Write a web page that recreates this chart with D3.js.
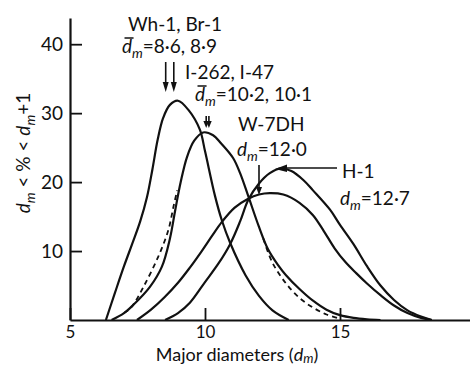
<!DOCTYPE html>
<html><head><meta charset="utf-8">
<script src="https://cdn.jsdelivr.net/npm/d3@7"></script>
<style>
body{margin:0;background:#fff}
text{font-family:Lato,"Open Sans",sans-serif;fill:#111}
</style>
</head><body>
<svg id="c" width="470" height="368"></svg>
<script>
// ---- data ----
const xTicks = [5, 10, 15];
const yTicks = [10, 20, 30, 40];
// Wh-1 / Br-1 (tallest curve)
const whBr = [[6.33,0],[6.67,4.0],[7.0,7.8],[7.3,11.0],[7.6,14.3],[7.85,17.8],[8.05,21.8],[8.25,26.2],[8.45,29.3],[8.7,31.2],[9.0,31.8],[9.4,30.4],[9.81,27.6],[10.0,24.5],[10.37,18.0],[10.62,14.5],[10.93,11.2],[11.5,6.5],[12.0,3.5],[12.5,1.4],[13.1,0]];
// I-262 (solid)
const i262 = [[6.54,0],[7.0,1.0],[7.35,2.2],[7.96,4.8],[8.4,7.7],[8.7,11.8],[8.9,16.0],[9.1,20.0],[9.33,23.6],[9.6,26.0],[9.93,27.2],[10.3,26.8],[10.6,25.6],[11.04,23.5],[11.3,21.3],[11.6,18.0],[12.0,13.5],[12.33,10.3],[12.7,8.0],[13.0,6.5],[13.5,4.5],[14.0,2.8],[14.5,1.5],[15.0,0.7],[15.5,0.3],[16.0,0.1],[16.5,0]];
// I-47 (dashed, flanks only)
const i47Left = [[7.0,1.0],[7.28,1.9],[7.72,4.8],[8.27,9.2],[8.64,13.0],[8.83,16.4],[8.97,18.8]];
const i47Right = [[12.16,11.8],[12.5,8.3],[13.0,5.3],[13.5,3.2],[14.0,1.8],[14.5,0.8],[15.0,0.2]];
// W-7DH
const w7dh = [[7.48,0],[8.0,1.5],[8.5,3.3],[9.0,5.4],[9.44,7.6],[9.88,10.0],[10.26,12.2],[10.62,14.2],[11.1,16.3],[11.6,17.6],[12.0,18.2],[12.4,18.4],[12.9,18.2],[13.5,17.0],[14.0,15.2],[14.4,12.9],[14.8,10.4],[15.2,8.4],[15.6,6.8],[16.0,5.3],[16.5,3.6],[17.0,2.1],[17.5,1.0],[18.0,0.3],[18.4,0]];
// H-1
const h1 = [[8.52,0],[9.0,1.0],[9.44,2.5],[10.0,5.5],[10.5,8.2],[10.93,11.0],[11.3,14.3],[11.6,17.4],[12.0,19.8],[12.4,21.3],[12.8,22.0],[13.2,21.6],[13.64,20.3],[14.0,18.8],[14.63,16.0],[15.0,13.8],[15.5,11.0],[16.0,7.8],[16.5,5.0],[17.0,2.9],[17.5,1.4],[18.0,0.5],[18.4,0]];
// mean diameters marked by arrows
const meanWhBr = [8.6, 8.9];
const meanI = [10.2, 10.1];
const meanW7 = [12.0];

// ---- scales ----
const svg = d3.select("#c");
svg.append("rect").attr("width",470).attr("height",368).attr("fill","#fff");
const x = d3.scaleLinear().domain([5, 19.815]).range([70, 470]);
const y = d3.scaleLinear().domain([0, 43.8]).range([320, 18]);

const line = d3.line().x(d=>x(d[0])).y(d=>y(d[1])).curve(d3.curveCatmullRom.alpha(0.5));

const g = svg.append("g");
[whBr, i262, w7dh, h1].forEach(s=>{
  g.append("path").attr("d", line(s)).attr("fill","none").attr("stroke","#111").attr("stroke-width",2.2);
});
[i47Left, i47Right].forEach(s=>{
  g.append("path").attr("d", line(s)).attr("fill","none").attr("stroke","#111").attr("stroke-width",1.8).attr("stroke-dasharray","5,4");
});

// ---- axes ----
const ya = svg.append("g").attr("transform","translate(70,0)")
  .call(d3.axisLeft(y).tickValues(yTicks).tickSize(-12).tickSizeOuter(0).tickPadding(7));
const xa = svg.append("g").attr("transform","translate(0,320)")
  .call(d3.axisBottom(x).tickValues(xTicks).tickSize(-12).tickSizeOuter(0).tickPadding(6));
[ya, xa].forEach(a=>{
  a.select(".domain").attr("stroke","#111").attr("stroke-width",2.2);
  a.selectAll(".tick line").attr("stroke","#111").attr("stroke-width",1.8);
  a.selectAll(".tick text").attr("font-family","Lato").attr("font-size",19).attr("fill","#111");
});
xa.selectAll(".tick text").attr("font-size",17);

// ---- rich text helper ----
function rich(parent, px, py, parts, opts={}){
  const size = opts.size||19, subShift = opts.subShift||5;
  const t = parent.append("text").attr("x",px).attr("y",py).attr("font-size",size);
  if(opts.anchor) t.attr("text-anchor",opts.anchor);
  if(opts.transform) t.attr("transform",opts.transform);
  let shift = 0, idx = 0; const bars = [];
  parts.forEach(p=>{
    const ts = t.append("tspan").text(p.t);
    if(p.it) ts.attr("font-style","italic");
    const target = p.sub ? subShift : 0;
    if(p.sub) ts.attr("font-size",size*0.72);
    if(target!==shift){ ts.attr("dy", target-shift); shift = target; }
    if(p.bar) bars.push(idx);
    idx += p.t.length;
  });
  bars.forEach(i=>{
    const b = t.node().getExtentOfChar(i);
    parent.append("line").attr("x1",b.x+2.5).attr("x2",b.x+b.width+1.5)
      .attr("y1",py-15).attr("y2",py-15).attr("stroke","#111").attr("stroke-width",1.5);
  });
  return t;
}
const ann = svg.append("g");
rich(ann,128,31,[{t:"Wh-1, Br-1"}]);
rich(ann,122,53,[{t:"d",it:true,bar:true},{t:"m",it:true,sub:true},{t:"=8·6, 8·9"}]);
rich(ann,185,79,[{t:"I-262, I-47"}]);
rich(ann,195,101,[{t:"d",it:true,bar:true},{t:"m",it:true,sub:true},{t:"=10·2, 10·1"}]);
rich(ann,238,131,[{t:"W-7DH"}]);
rich(ann,237,156,[{t:"d",it:true},{t:"m",it:true,sub:true},{t:"=12·0"}]);
rich(ann,342,178,[{t:"H-1"}]);
rich(ann,340,205,[{t:"d",it:true},{t:"m",it:true,sub:true},{t:"=12·7"}]);

// axis titles
rich(svg,237,361,[{t:"Major diameters ("},{t:"d",it:true},{t:"m",it:true,sub:true},{t:")"}],{anchor:"middle",size:18,subShift:2});
rich(svg,0,0,[{t:"d",it:true},{t:"m",it:true,sub:true},{t:" < % < "},{t:"d",it:true},{t:"m",it:true,sub:true},{t:"+1"}],{anchor:"middle",size:19,transform:"translate(30,153) rotate(-90)"});

// ---- arrows ----
function arrowDown(xp, y1, y2, hl, hw){
  ann.append("line").attr("x1",xp).attr("x2",xp).attr("y1",y1).attr("y2",y2-hl+1).attr("stroke","#111").attr("stroke-width",1.6);
  ann.append("path").attr("d",`M${xp-hw},${y2-hl}L${xp+hw},${y2-hl}L${xp},${y2}Z`).attr("fill","#111");
}
meanWhBr.forEach(m=>arrowDown(x(m)-1.5, 62, 92, 10, 3));
meanI.forEach(m=>arrowDown(x(m)-1.5, 116, 128, 7, 2.8));
meanW7.forEach(m=>arrowDown(x(m), 165, 195, 8, 3));
// H-1 pointer
ann.append("line").attr("x1",337).attr("x2",284).attr("y1",168).attr("y2",168).attr("stroke","#111").attr("stroke-width",1.6);
ann.append("path").attr("d","M275,169L287,164.5L287,172Z").attr("fill","#111");
</script>
</body></html>
